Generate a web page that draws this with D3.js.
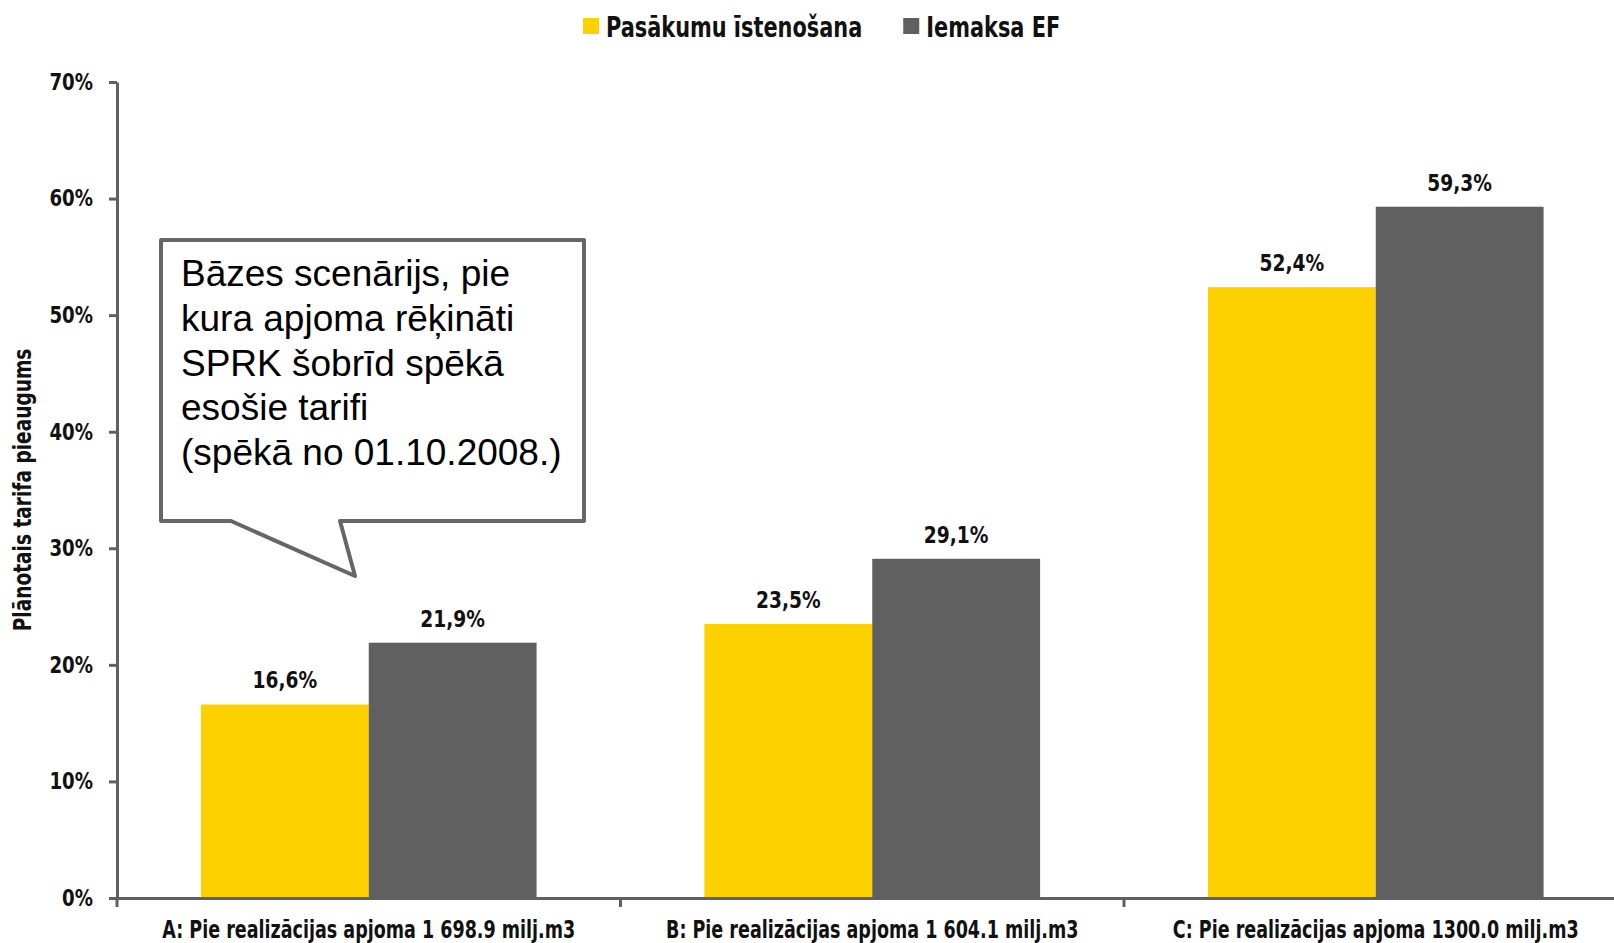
<!DOCTYPE html>
<html>
<head>
<meta charset="utf-8">
<script src="https://cdn.jsdelivr.net/npm/d3@7"></script>
<style>
  body { margin: 0; background: #fff; }
  svg { display: block; }
  .cond { font-family: "Liberation Sans Narrow", "DejaVu Sans Condensed", sans-serif; font-weight: bold; }
</style>
</head>
<body>
<script>
// chart data
var categories = [
  "A: Pie realizācijas apjoma 1 698.9 milj.m3",
  "B: Pie realizācijas apjoma 1 604.1 milj.m3",
  "C: Pie realizācijas apjoma 1300.0 milj.m3"
];
var seriesNames = ["Pasākumu īstenošana", "Iemaksa EF"];
var pasakumi = [0.166, 0.235, 0.524];
var iemaksa = [0.219, 0.291, 0.593];
var yTicks = [0, 0.1, 0.2, 0.3, 0.4, 0.5, 0.6, 0.7];
var colors = ["#FDD000", "#606060"];
var calloutLines = [
  "Bāzes scenārijs, pie",
  "kura apjoma rēķināti",
  "SPRK šobrīd spēkā",
  "esošie tarifi",
  "(spēkā no 01.10.2008.)"
];

var width = 1614, height = 943;
var plotLeft = 117, plotBottom = 898, plotTop = 82;
var axisColor = "#606060";

var svg = d3.select("body").append("svg")
  .attr("width", width)
  .attr("height", height);

// squeeze text horizontally to get a condensed look
var squeeze = function(sel, k) {
  sel.each(function() {
    var len = this.getComputedTextLength();
    d3.select(this).attr("textLength", len * k).attr("lengthAdjust", "spacingAndGlyphs");
  });
};

var x0 = d3.scaleBand().domain(categories).range([plotLeft, plotLeft + 3 * 503.5]);
var x1 = d3.scaleBand().domain(seriesNames).range([0, x0.bandwidth()])
  .paddingInner(0).paddingOuter(0.5);
var y = d3.scaleLinear().domain([0, 0.7]).range([plotBottom, plotTop]);

var lv = d3.formatLocale({decimal: ",", thousands: " ", grouping: [3], currency: ["", ""]});
var fmtVal = lv.format(".1%");
var fmtTick = d3.format(".0%");

var rows = categories.map(function(c, i) {
  return {cat: c, vals: [pasakumi[i], iemaksa[i]]};
});

// bars
var groups = svg.selectAll(".grp").data(rows).enter().append("g")
  .attr("class", "grp")
  .attr("transform", function(d) { return "translate(" + x0(d.cat) + ",0)"; });

groups.selectAll("rect").data(function(d) {
  return d.vals.map(function(v, i) { return {name: seriesNames[i], v: v, i: i}; });
}).enter().append("rect")
  .attr("x", function(d) { return x1(d.name); })
  .attr("y", function(d) { return y(d.v); })
  .attr("width", x1.bandwidth())
  .attr("height", function(d) { return plotBottom - y(d.v); })
  .attr("fill", function(d) { return colors[d.i]; });

var valLabels = groups.selectAll("text").data(function(d) {
  return d.vals.map(function(v, i) { return {name: seriesNames[i], v: v}; });
}).enter().append("text")
  .attr("class", "cond")
  .attr("x", function(d) { return x1(d.name) + x1.bandwidth() / 2; })
  .attr("y", function(d) { return y(d.v) - 16; })
  .attr("text-anchor", "middle")
  .attr("font-size", 23)
  .attr("fill", "#111")
  .text(function(d) { return fmtVal(d.v); });
squeeze(valLabels, 0.9);

// y axis
var yAxis = svg.append("g")
  .attr("transform", "translate(" + plotLeft + ",0)")
  .call(d3.axisLeft(y).tickValues(yTicks).tickFormat(fmtTick).tickSize(8).tickSizeOuter(0).tickPadding(16));
yAxis.select(".domain").attr("stroke", axisColor).attr("stroke-width", 3);
yAxis.selectAll(".tick line").attr("stroke", axisColor).attr("stroke-width", 3);
var yText = yAxis.selectAll(".tick text").attr("class", "cond").attr("font-size", 23).attr("fill", "#111");
squeeze(yText, 0.88);

// x axis
var xAxis = svg.append("g")
  .attr("transform", "translate(0," + plotBottom + ")")
  .call(d3.axisBottom(x0).tickSize(0).tickSizeOuter(0).tickPadding(22));
xAxis.select(".domain").attr("stroke", axisColor).attr("stroke-width", 3);
xAxis.selectAll(".tick text")
  .attr("class", "cond")
  .attr("font-size", 25)
  .attr("fill", "#111")
  .attr("transform", "scale(0.78,1)");
xAxis.selectAll(".bound").data(categories).enter().append("line")
  .attr("class", "bound")
  .attr("x1", function(d) { return x0(d); })
  .attr("x2", function(d) { return x0(d); })
  .attr("y1", 0).attr("y2", 9)
  .attr("stroke", axisColor).attr("stroke-width", 3);

// y title
var yTitle = svg.append("text")
  .attr("class", "cond")
  .attr("transform", "translate(31," + 490 + ") rotate(-90)")
  .attr("text-anchor", "middle")
  .attr("font-size", 24)
  .attr("fill", "#111")
  .text("Plānotais tarifa pieaugums");
squeeze(yTitle, 0.86);

// legend
var legend = svg.append("g").attr("transform", "translate(583,0)");
var lx = 0;
seriesNames.forEach(function(n, i) {
  legend.append("rect").attr("x", lx).attr("y", 18).attr("width", 16).attr("height", 16).attr("fill", colors[i]);
  var t = legend.append("text").attr("class", "cond")
    .attr("x", lx + 23).attr("y", 37)
    .attr("font-size", 29).attr("fill", "#111").text(n);
  var w = t.node().getComputedTextLength() * 0.8;
  t.attr("textLength", w).attr("lengthAdjust", "spacingAndGlyphs");
  lx += 23 + w + 41;
});

// callout
var cx0 = 161, cy0 = 240, cx1 = 584, cy1 = 521;
svg.append("path")
  .attr("d", "M" + cx0 + "," + cy0 + "H" + cx1 + "V" + cy1 + "H340L355,576L231," + cy1 + "H" + cx0 + "Z")
  .attr("fill", "#fff")
  .attr("stroke", "#666")
  .attr("stroke-width", 4)
  .attr("stroke-linejoin", "round");
svg.append("g").selectAll("text").data(calloutLines).enter().append("text")
  .attr("x", 181)
  .attr("y", function(d, i) { return 286 + i * 44.8; })
  .attr("font-family", "'Liberation Sans', Arial, sans-serif")
  .attr("font-size", 37)
  .attr("fill", "#000")
  .text(function(d) { return d; });
</script>
</body>
</html>
